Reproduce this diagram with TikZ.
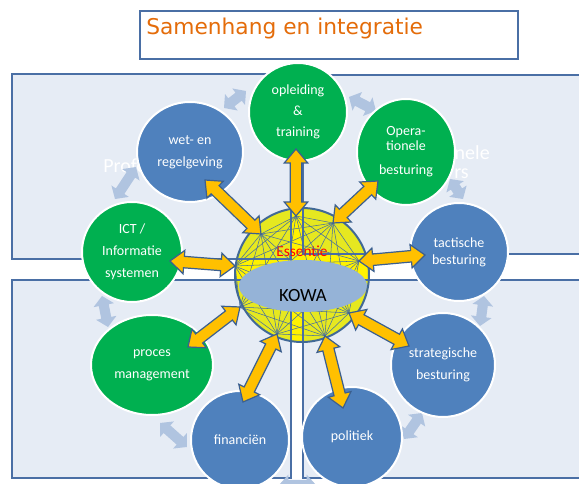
\documentclass[tikz,border=0pt]{standalone}
\usepackage{fontspec}
\setmainfont{Carlito}
\newfontfamily\titlefont{DejaVu Sans}
\usetikzlibrary{shapes.geometric,calc}

\definecolor{bgblue}{RGB}{230,236,245}
\definecolor{rectline}{RGB}{74,111,165}
\definecolor{cgreen}{RGB}{0,176,80}
\definecolor{cblue}{RGB}{79,129,189}
\definecolor{orarr}{RGB}{255,192,0}
\definecolor{orline}{RGB}{59,95,143}
\definecolor{lightarr}{RGB}{176,196,224}
\definecolor{sphyel}{RGB}{230,232,32}
\definecolor{meshblue}{RGB}{70,110,160}
\definecolor{kowablue}{RGB}{149,179,215}
\definecolor{titleorange}{RGB}{228,108,10}
\definecolor{sphline}{RGB}{65,105,150}

% double arrow polygon between two named coordinates
% #1 from, #2 to, #3 shaft half width, #4 head half width, #5 head length, #6 style
\newcommand\biarrow[6]{%
  \path let \p1=(#1), \p2=(#2),
    \n1={atan2(\y2-\y1,\x2-\x1)}, \n2={veclen(\x2-\x1,\y2-\y1)} in
    \pgfextra{\xdef\baang{\n1}\xdef\balen{\n2}\xdef\bax{\x1}\xdef\bay{\y1}};
  \begin{scope}[shift={(\bax,\bay)},rotate=\baang]
    \filldraw[#6] (0pt,0pt) -- (#5,#4) -- (#5,#3) -- ({\balen-#5},#3)
      -- ({\balen-#5},#4) -- (\balen,0pt) -- ({\balen-#5},-#4)
      -- ({\balen-#5},-#3) -- (#5,-#3) -- (#5,-#4) -- cycle;
  \end{scope}}

\tikzset{
  bub/.style={draw=white, line width=1.5pt, text=white, align=center, inner sep=0pt,
    font=\fontsize{10.5}{16.5}\selectfont},
  gbub/.style={bub, circle, fill=cgreen},
  bbub/.style={bub, circle, fill=cblue},
  gell/.style={bub, ellipse, fill=cgreen},
  bell/.style={bub, ellipse, fill=cblue},
  bgrect/.style={fill=bgblue, draw=rectline, line width=1.3pt},
  orstyle/.style={fill=orarr, draw=orline, line width=0.9pt, line join=miter},
  ltstyle/.style={fill=lightarr, draw=none},
  mesh/.style={draw=meshblue, line width=0.4pt},
  hidden/.style={text=white, font=\fontsize{15}{22}\selectfont, inner sep=0pt}
}

\begin{document}
\begin{tikzpicture}[x=0.75pt, y=-0.75pt]
\useasboundingbox (0,0) rectangle (579,484);
\clip (0,0) rectangle (579,484);
\fill[white] (0,0) rectangle (579,484);

% background panels
\path[bgrect] (12,74) rectangle (291,259);
\path[bgrect] (303,75) rectangle (590,254);
\path[bgrect] (12,280) rectangle (291,478);
\path[bgrect] (303,280) rectangle (590,478);

% title
\draw[draw=rectline, line width=0.8pt, fill=white] (140,11) rectangle (518,59);
\node[anchor=west, inner sep=0pt, text=titleorange, font=\titlefont\fontsize{16.3}{20}\selectfont] (title) at (146,29) {Samenhang en integratie};

% faint panel texts (visible fragments only)
\node[hidden, anchor=base west] (pt1) at (103,173) {Profe};
\node[hidden, anchor=base east] (pt2) at (490,160) {nele};
\node[hidden, anchor=base east] (pt3) at (469,179) {rs};

% light ring arrows
\coordinate (la1a) at (224,108); \coordinate (la1b) at (246,91);
\coordinate (la2a) at (349,97);  \coordinate (la2b) at (376,111);
\coordinate (la3a) at (450,179); \coordinate (la3b) at (463,199);
\coordinate (la4a) at (484,296); \coordinate (la4b) at (480,326);
\coordinate (la5a) at (422,413); \coordinate (la5b) at (404,439);
\coordinate (la6a) at (279,485); \coordinate (la6b) at (316,485);
\coordinate (la7a) at (160,423); \coordinate (la7b) at (187,447);
\coordinate (la8a) at (102,296); \coordinate (la8b) at (108,327);
\coordinate (la9a) at (115,199); \coordinate (la9b) at (136,167);
\foreach \k in {1,...,9}{\biarrow{la\k a}{la\k b}{3.8pt}{7.8pt}{7pt}{ltstyle}}

% central sphere
\coordinate (sc) at (302,275);
\begin{scope}
  \clip (sc) circle [radius=67];
  \fill[yellow] (200,180) rectangle (400,370);
  \fill[sphyel] (12,74) rectangle (291,259);
  \fill[sphyel] (303,75) rectangle (590,254);
  \fill[sphyel] (12,280) rectangle (291,478);
  \fill[sphyel] (303,280) rectangle (590,478);
  \draw[draw=rectline, line width=1.3pt] (12,74) rectangle (291,259);
  \draw[draw=rectline, line width=1.3pt] (303,75) rectangle (590,254);
  \draw[draw=rectline, line width=1.3pt] (12,280) rectangle (291,478);
  \draw[draw=rectline, line width=1.3pt] (303,280) rectangle (590,478);
\end{scope}

\node[text=red, inner sep=0pt, font=\fontsize{11.5}{13}\selectfont] (ess) at (302,251) {Essentie};

% hubs
\coordinate (h1) at (261,234);
\coordinate (h2) at (296,216);
\coordinate (h3) at (333,223);
\coordinate (h4) at (359,261);
\coordinate (h5) at (349,313);
\coordinate (h6) at (325,336);
\coordinate (h7) at (277,334);
\coordinate (h8) at (240,307);
\coordinate (h9) at (235,266);
\foreach \i in {1,...,9}{\foreach \j in {1,...,9}{\ifnum\i<\j \draw[mesh] (h\i) -- (h\j);\fi}}

\node[ellipse, fill=kowablue, minimum width=96pt, minimum height=39pt, inner sep=0pt] (kowa) at (303,286) {};
\node[inner sep=0pt, font=\fontsize{14}{16}\selectfont, text=black] (kowat) at (303,296) {KOWA};
\draw[draw=sphline, line width=1.5pt] (sc) circle [radius=67];

% circles
\node[gbub, minimum size=73.5pt, font=\fontsize{10.5}{15.75}\selectfont] (opl) at (298,112) {opleiding\\\&\\training};
\node[gell, minimum width=73.5pt, minimum height=79.5pt, font=\fontsize{10.5}{11.25}\selectfont] (oper) at (406,152) {Opera-\\tionele\\[6.75pt]besturing};
\node[bbub, minimum size=73.5pt, font=\fontsize{10.5}{12.75}\selectfont] (tact) at (459,252) {tactische\\besturing};
\node[bbub, minimum size=78pt] (strat) at (443,365) {strategische\\besturing};
\node[bbub, minimum size=75pt] (pol) at (352,437) {politiek};
\node[bbub, minimum size=73.5pt] (fin) at (240,440) {financiën};
\node[gell, minimum width=91.5pt, minimum height=75pt] (proc) at (152,365) {proces\\management};
\node[gbub, minimum size=75pt] (ict) at (132,252) {ICT /\\Informatie\\systemen};
\node[bell, minimum width=79.5pt, minimum height=75pt] (wet) at (190,152) {wet- en\\regelgeving};

% orange arrows
\coordinate (t1) at (205,180);
\coordinate (t2) at (296,149);
\coordinate (t3) at (378,181);
\coordinate (t4) at (425,255);
\coordinate (t5) at (409,346);
\coordinate (t6) at (343,408);
\coordinate (t7) at (243,402);
\coordinate (t8) at (188,347);
\coordinate (t9) at (170,261);
\foreach \k in {1,...,9}{\biarrow{h\k}{t\k}{4.3pt}{8.8pt}{10.5pt}{orstyle}}

\end{tikzpicture}
\end{document}
